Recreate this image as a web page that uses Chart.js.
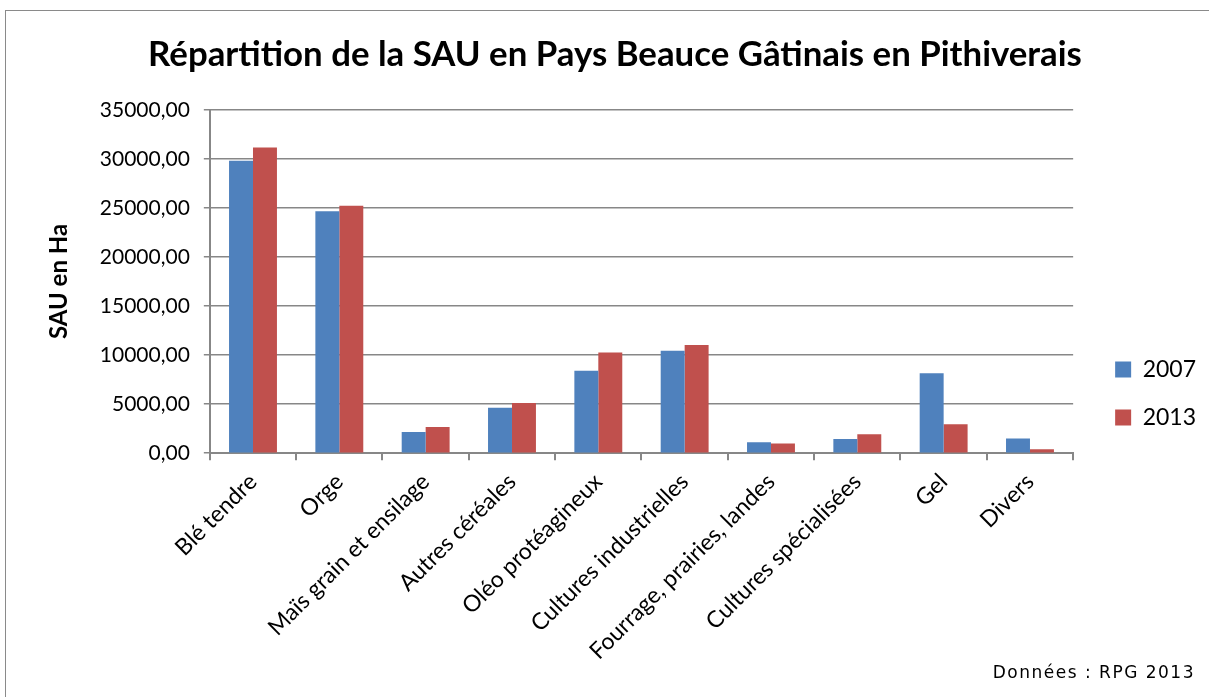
<!DOCTYPE html>
<html>
<head>
<meta charset="utf-8">
<script src="https://cdn.jsdelivr.net/npm/chart.js@4"></script>
<style>
html,body{margin:0;padding:0;overflow:hidden;background:#fff;}
#frame{position:absolute;left:5px;top:10px;width:1220px;height:700px;border:1.5px solid #8a8a8a;}
#wrap{position:absolute;left:0;top:0;width:1209px;height:697px;}
#source{position:absolute;right:14px;top:662px;font:17px 'DejaVu Sans',sans-serif;letter-spacing:1.5px;color:#000;}
</style>
</head>
<body>
<div id="frame"></div>
<div id="wrap"><canvas id="chart"></canvas></div>
<div id="source">Données : RPG 2013</div>
<script>
// categories and values (ha)
let categories=["Blé tendre","Orge","Maïs grain et ensilage","Autres céréales","Oléo protéagineux","Cultures industrielles","Fourrage, prairies, landes","Cultures spécialisées","Gel","Divers"];
let sau2007=[29800,24650,2170,4640,8410,10440,1120,1460,8140,1500];
let sau2013=[31160,25230,2680,5120,10270,11020,990,1930,2950,410];
let seriesNames=["2007","2013"];
let yTicks=[0,5000,10000,15000,20000,25000,30000,35000];

let font="Lato, 'Open Sans', sans-serif";
let axisGray="#878787";

let ctx=document.getElementById("chart").getContext("2d");
let chart=new Chart(ctx,{
type:"bar",
data:{
labels:categories,
datasets:[
{label:seriesNames[0],data:sau2007,backgroundColor:"#4F81BD"},
{label:seriesNames[1],data:sau2013,backgroundColor:"#C0504D"}
]
},
options:{
responsive:true,
maintainAspectRatio:false,
animation:false,
devicePixelRatio:1,
categoryPercentage:0.555,
barPercentage:1,
layout:{padding:{left:24,right:3,top:24,bottom:24}},
plugins:{
title:{display:true,text:"Répartition de la SAU en Pays Beauce Gâtinais en Pithiverais",
color:"#000",font:{family:font,size:34.8,weight:"bold"},padding:{top:10,bottom:34}},
legend:{position:"right",
title:{display:true,text:" ",font:{size:10},padding:{top:39,bottom:39}},
labels:{color:"#000",font:{family:font,size:23},boxWidth:16,boxHeight:16,padding:25}},
tooltip:{enabled:false}
},
scales:{
x:{
grid:{display:true,drawOnChartArea:false,offset:true,color:axisGray,lineWidth:2,tickLength:7},
border:{color:axisGray,width:2},
ticks:{color:"#000",font:{family:font,size:23},minRotation:45,maxRotation:45,padding:8}
},
y:{
min:0,max:35000,
afterBuildTicks:(axis)=>{axis.ticks=yTicks.map(v=>({value:v}));},
grid:{color:axisGray,lineWidth:1.5,tickLength:6},
border:{color:axisGray,width:2},
ticks:{color:"#000",font:{family:font,size:21},padding:14,
callback:(v)=>v.toFixed(2).replace(".",",")},
title:{display:true,text:"SAU en Ha",color:"#000",font:{family:font,size:24,weight:"bold"},padding:{top:21,bottom:12}}
},
// empty axis used only as a gap between plot and legend
gap:{type:"linear",position:"right",display:true,
grid:{display:false},border:{display:false},ticks:{display:false},
afterFit:(s)=>{s.width=17;}}
}
}
});
</script>
</body>
</html>
